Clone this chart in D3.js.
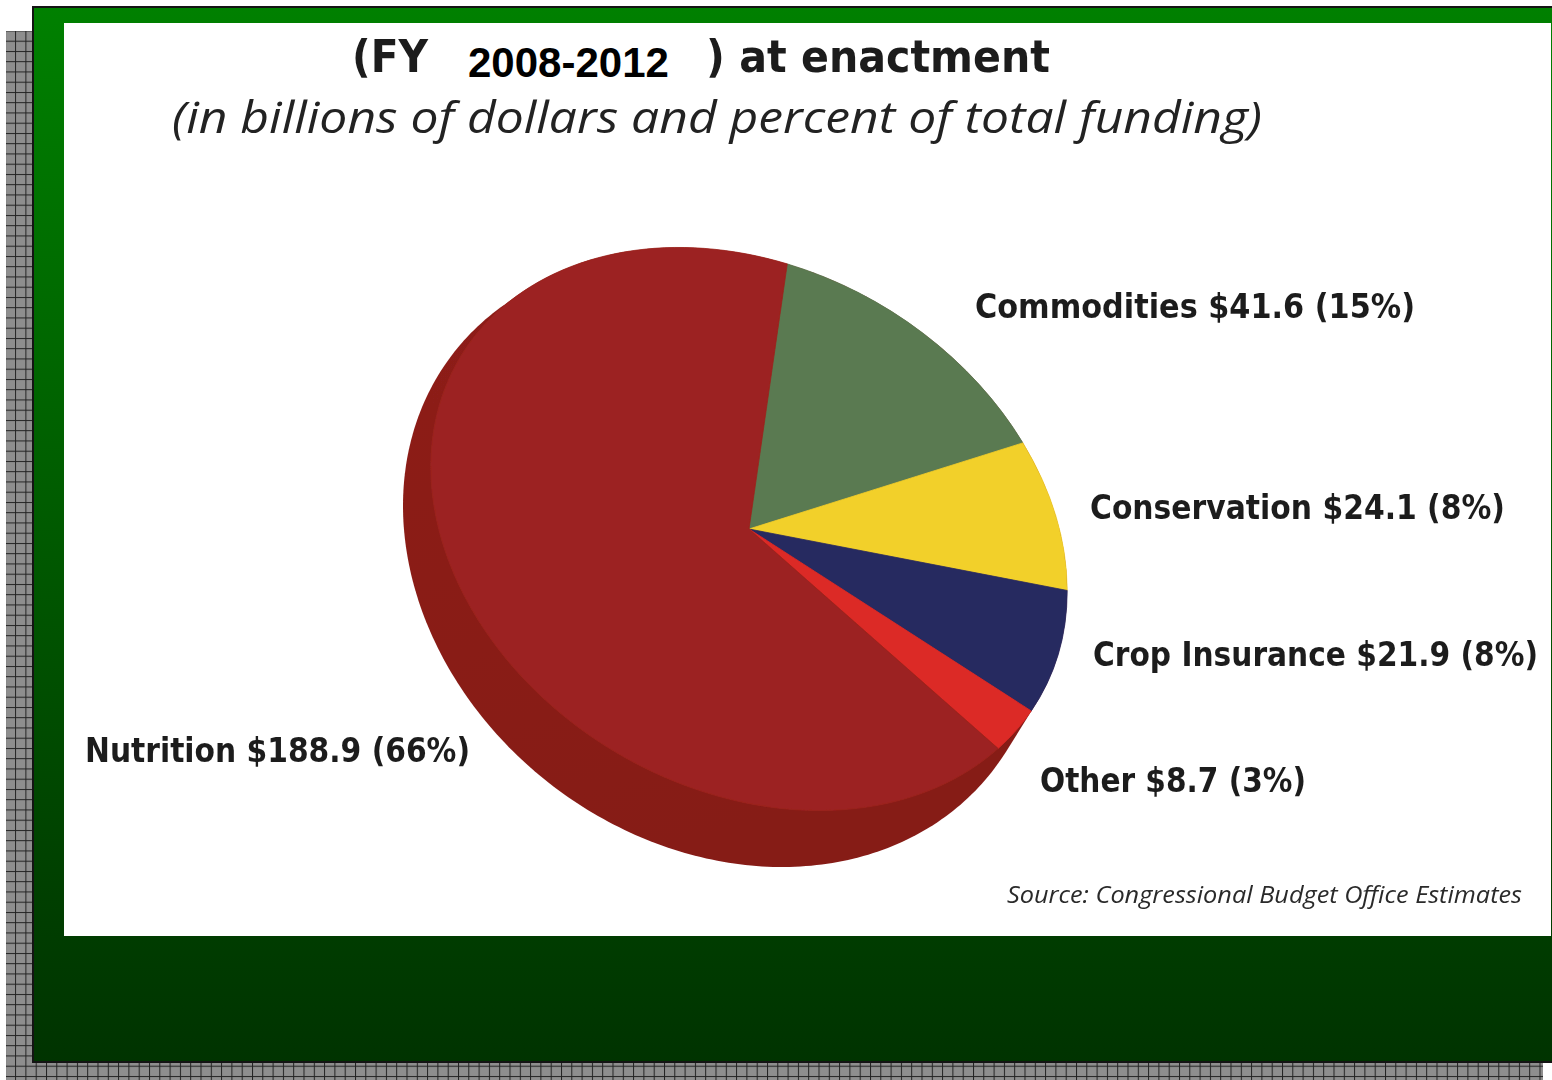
<!DOCTYPE html>
<html>
<head>
<meta charset="utf-8">
<script src="https://cdn.jsdelivr.net/npm/d3@7"></script>
<style>
  html, body { margin: 0; padding: 0; background: #ffffff; overflow: hidden; }
  svg { display: block; }
</style>
</head>
<body>
<svg id="chart" width="1552" height="1080"></svg>
<script>
// ---- Farm bill funding by title, FY 2008-2012 (CBO estimates) ----
const categories = ["Commodities", "Conservation", "Crop Insurance", "Other", "Nutrition"];
const values = [41.6, 24.1, 21.9, 8.7, 188.9];          // billions of dollars
const shares = [15, 8, 8, 3, 66];                         // percent of total funding
const sliceColors = ["#5a7a51", "#f2d02a", "#272a60", "#dc2a26", "#9c2420"];

const titleLead = "(FY";
const titleYears = "2008-2012";
const titleTail = ") at enactment";
const subtitle = "(in billions of dollars and percent of total funding)";
const sourceNote = "Source: Congressional Budget Office Estimates";

const data = categories.map((c, i) => ({ category: c, value: values[i], share: shares[i], color: sliceColors[i] }));

const svg = d3.select("#chart");
const defs = svg.append("defs");

// slide background gradient
const green = defs.append("linearGradient")
  .attr("id", "slideGreen").attr("x1", 0).attr("y1", 0).attr("x2", 0).attr("y2", 1);
green.append("stop").attr("offset", 0).attr("stop-color", "#008000");
green.append("stop").attr("offset", 1).attr("stop-color", "#003300");

// checkered drop-shadow pattern
const grid = defs.append("pattern")
  .attr("id", "shadowGrid").attr("patternUnits", "userSpaceOnUse")
  .attr("x", 4.8).attr("y", -0.3).attr("width", 10.3).attr("height", 10.25);
grid.append("rect").attr("width", 10.3).attr("height", 10.25).attr("fill", "#8e8e8e");
grid.append("rect").attr("width", 10.3).attr("height", 1).attr("fill", "#222222");
grid.append("rect").attr("width", 1).attr("height", 10.25).attr("fill", "#222222");

// soft focus for the printed chart artwork
const soft = defs.append("filter").attr("id", "soft")
  .attr("filterUnits", "userSpaceOnUse")
  .attr("x", 60).attr("y", 20).attr("width", 1492).attr("height", 920);
soft.append("feGaussianBlur").attr("stdDeviation", 0.7);

// rim shading of the disc
const rimShade = defs.append("linearGradient")
  .attr("id", "rimShade").attr("x1", 0).attr("y1", 0).attr("x2", 0.3).attr("y2", 1);
rimShade.append("stop").attr("offset", 0).attr("stop-color", "#8e1e1a");
rimShade.append("stop").attr("offset", 1).attr("stop-color", "#861a16");

// ---- slide frame ----
svg.append("rect").attr("x", 6).attr("y", 31).attr("width", 1537).attr("height", 1060)
  .attr("fill", "url(#shadowGrid)");
svg.append("rect").attr("x", 33).attr("y", 7).attr("width", 1530).attr("height", 1055)
  .attr("fill", "url(#slideGreen)").attr("stroke", "#141414").attr("stroke-width", 2);
svg.append("rect").attr("x", 64).attr("y", 23).attr("width", 1487).attr("height", 913)
  .attr("fill", "#ffffff");

const art = svg.append("g").attr("filter", "url(#soft)");
const heavy = "'DejaVu Sans Condensed', 'DejaVu Sans', sans-serif";

// ---- titles ----
art.append("text")
  .attr("x", 352).attr("y", 72)
  .attr("font-family", heavy).attr("font-weight", 700).attr("font-stretch", "condensed")
  .attr("font-size", 44).attr("fill", "#1a1a1a")
  .attr("textLength", 76).attr("lengthAdjust", "spacingAndGlyphs")
  .text(titleLead);
art.append("text")
  .attr("x", 706).attr("y", 72)
  .attr("font-family", heavy).attr("font-weight", 700).attr("font-stretch", "condensed")
  .attr("font-size", 44).attr("fill", "#1a1a1a")
  .attr("textLength", 344).attr("lengthAdjust", "spacingAndGlyphs")
  .text(titleTail);
art.append("text")
  .attr("x", 172).attr("y", 133)
  .attr("font-family", "'Open Sans', sans-serif").attr("font-style", "italic").attr("font-weight", 500)
  .attr("font-size", 43).attr("fill", "#222222")
  .attr("textLength", 1090).attr("lengthAdjust", "spacingAndGlyphs")
  .text(subtitle);

// ---- pie (tilted disc with visible rim) ----
// top face: a circle mapped through rotate + squash; base face sits lower-left
const cx = 749, cy = 529, R = 336, squash = 260 / 336, tilt = 30.5;
const start = -17.6 * Math.PI / 180;

const pie = d3.pie().sort(null).value(d => d.value)
  .startAngle(start).endAngle(start + 2 * Math.PI);
const arcs = pie(data);
const arc = d3.arc().innerRadius(0).outerRadius(R);

const cosT = Math.cos(tilt * Math.PI / 180), sinT = Math.sin(tilt * Math.PI / 180);
function topFace(theta) {
  const x = R * Math.sin(theta), y = -R * squash * Math.cos(theta);
  return [cx + x * cosT - y * sinT, cy + x * sinT + y * cosT];
}
// base face: extents (W, H) and cross term K around its own centre
const base = { cx: 723, cy: 562, W: 320, H: 305, K: 18000 };
function baseFace(t) {
  const a11 = base.W * base.W, a12 = base.K, a22 = base.H * base.H;
  const l11 = Math.sqrt(a11), l21 = a12 / l11, l22 = Math.sqrt(a22 - l21 * l21);
  const u = Math.cos(t), v = Math.sin(t);
  return [base.cx + l11 * u, base.cy + l21 * u + l22 * v];
}
const samples = d3.range(0, 2 * Math.PI, Math.PI / 180);
const hull = d3.polygonHull(samples.map(topFace).concat(samples.map(baseFace)));

art.append("path")
  .attr("d", d3.line()(hull) + "Z")
  .attr("fill", "url(#rimShade)");

art.append("g")
  .attr("transform", `translate(${cx},${cy}) rotate(${tilt}) scale(1,${squash})`)
  .selectAll("path").data(arcs).join("path")
  .attr("d", arc)
  .attr("fill", d => d.data.color)
  .attr("stroke", d => d.data.color).attr("stroke-width", 0.8);

// ---- slice labels ----
const labelPos = {
  "Commodities":    { x: 975,  y: 318, w: 440 },
  "Conservation":   { x: 1090, y: 519, w: 415 },
  "Crop Insurance": { x: 1093, y: 666, w: 445 },
  "Other":          { x: 1040, y: 792, w: 266 },
  "Nutrition":      { x: 85,   y: 762, w: 385 }
};
art.append("g").selectAll("text").data(data).join("text")
  .attr("x", d => labelPos[d.category].x)
  .attr("y", d => labelPos[d.category].y)
  .attr("textLength", d => labelPos[d.category].w)
  .attr("lengthAdjust", "spacingAndGlyphs")
  .attr("font-family", heavy).attr("font-weight", 700).attr("font-stretch", "condensed")
  .attr("font-size", 34).attr("fill", "#1e1e1e")
  .text(d => `${d.category} $${d.value} (${d.share}%)`);

art.append("text")
  .attr("x", 1007).attr("y", 903)
  .attr("font-family", "'Open Sans', sans-serif").attr("font-style", "italic")
  .attr("font-size", 23).attr("fill", "#2a2a2a")
  .attr("textLength", 515).attr("lengthAdjust", "spacingAndGlyphs")
  .text(sourceNote);

// ---- year range set on a white patch over the title ----
svg.append("rect").attr("x", 446).attr("y", 30).attr("width", 260).attr("height", 60).attr("fill", "#ffffff");
svg.append("text")
  .attr("x", 468).attr("y", 77)
  .attr("font-family", "'Liberation Sans', Arial, sans-serif").attr("font-weight", 700)
  .attr("font-size", 42).attr("fill", "#000000")
  .text(titleYears);
</script>
</body>
</html>
